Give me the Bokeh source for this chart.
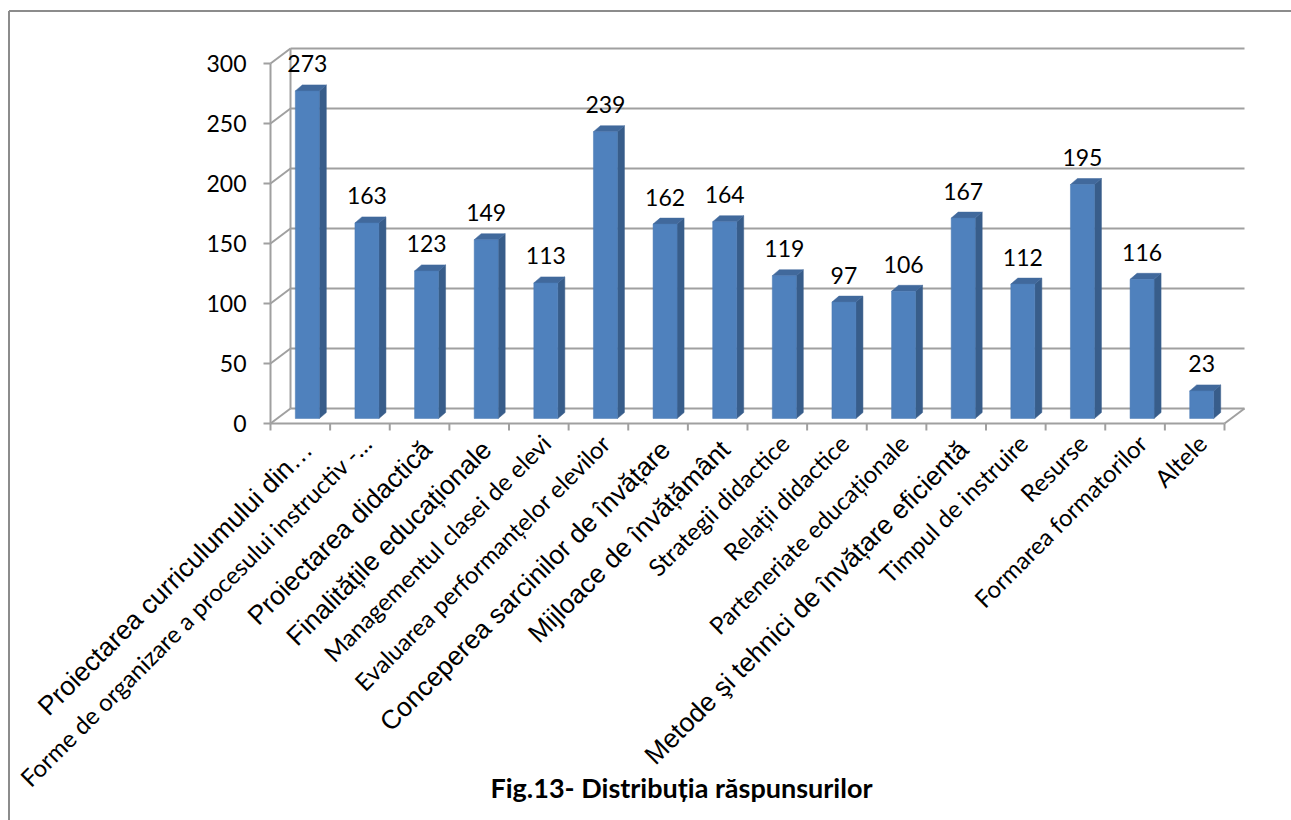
import math
from bokeh.plotting import figure
from bokeh.models import Range1d
from bokeh.core.properties import value
from bokeh.embed import file_html
from bokeh.resources import INLINE

# ---------------- data ----------------
categories = [
    "Proiectarea curriculumului din…",
    "Forme de organizare a procesului instructiv -…",
    "Proiectarea didactică",
    "Finalitățile educaționale",
    "Managementul clasei de elevi",
    "Evaluarea performanțelor elevilor",
    "Conceperea sarcinilor de învățare",
    "Mijloace de învățământ",
    "Strategii didactice",
    "Relații didactice",
    "Parteneriate educaționale",
    "Metode şi tehnici de învățare eficientă",
    "Timpul de instruire",
    "Resurse",
    "Formarea formatorilor",
    "Altele",
]
values = [273, 163, 123, 149, 113, 239, 162, 164, 119, 97, 106, 167, 112, 195, 116, 23]
y_ticks = [0, 50, 100, 150, 200, 250, 300]
title_text = "Fig.13- Distribuția răspunsurilor"

# labels drawn in the Arial-like face (the rest in the Calibri-like face)
ARIAL_LABELS = {0, 2, 3, 6, 7, 11}

# ---------------- layout constants (canvas pixels) ----------------
W, H = 1291, 820
AX_X, AX_Y = 270, 423      # front corner of the axes (value 0, first category edge)
PX_CAT = 59.625            # pixels per category
PX_VAL = 1.2               # pixels per unit of value
BACK_DX, BACK_DY = 20, 15  # depth of the 3D box
BAR_SHIFT, BAR_LIFT = 7, 5
BAR_W = 24
BAR_DX, BAR_DY = 7, 6
TICK = 7
GRID = "#A0A0A0"
FRONT, SIDE, TOP = "#4F81BD", "#385D8A", "#41699C"
BORDER_X, BORDER_Y = 8.5, 10.5

n = len(categories)
ymax = y_ticks[-1]

def dx(px):   # horizontal pixels -> category units
    return px / PX_CAT

def dy(px):   # vertical pixels -> value units
    return px / PX_VAL

p = figure(width=W, height=H,
           x_range=Range1d(dx(-AX_X), dx(W - AX_X)),
           y_range=Range1d(dy(AX_Y - H), dy(AX_Y)),
           min_border=0, x_axis_location=None, y_axis_location=None,
           output_backend="svg", toolbar_location=None)
p.title.visible = False
p.grid.visible = False
p.outline_line_color = None
p.background_fill_color = "white"
p.border_fill_color = "white"

# outer chart-area border (left and top edges are the visible ones)
p.segment(x0=[dx(BORDER_X - AX_X), dx(BORDER_X - AX_X)],
          y0=[dy(AX_Y - BORDER_Y), dy(AX_Y - BORDER_Y)],
          x1=[dx(BORDER_X - AX_X), dx(W - AX_X)],
          y1=[dy(AX_Y - H), dy(AX_Y - BORDER_Y)],
          line_color="#8C8C8C", line_width=2)

bdx, bdy = dx(BACK_DX), dy(BACK_DY)
nt = len(y_ticks)

# back wall grid lines, left wall diagonals, back edge, floor right edge
p.segment(x0=[bdx] * nt, y0=[t + bdy for t in y_ticks],
          x1=[n + bdx] * nt, y1=[t + bdy for t in y_ticks],
          line_color=GRID, line_width=2)
p.segment(x0=[0] * nt, y0=y_ticks, x1=[bdx] * nt, y1=[t + bdy for t in y_ticks],
          line_color=GRID, line_width=2)
p.segment(x0=[bdx], y0=[bdy], x1=[bdx], y1=[ymax + bdy], line_color=GRID, line_width=2)
p.segment(x0=[n], y0=[0], x1=[n + bdx], y1=[bdy], line_color=GRID, line_width=2)

# front value axis: line, ticks, labels
p.segment(x0=[0], y0=[0], x1=[0], y1=[ymax], line_color=GRID, line_width=2)
p.segment(x0=[-dx(TICK)] * nt, y0=y_ticks, x1=[0] * nt, y1=y_ticks,
          line_color=GRID, line_width=2)
p.text(x=[-dx(TICK + 17)] * nt, y=y_ticks, text=[str(t) for t in y_ticks],
       text_align="right", text_baseline="middle",
       text_font=value("Lato"), text_font_size="23px", text_color="black")

# front category axis: line and tick marks between categories
p.segment(x0=[0], y0=[0], x1=[n], y1=[0], line_color=GRID, line_width=2)
p.segment(x0=list(range(n + 1)), y0=[0] * (n + 1),
          x1=list(range(n + 1)), y1=[-dy(TICK)] * (n + 1),
          line_color=GRID, line_width=2)

# bars (front, side, top faces)
hw = dx(BAR_W / 2)
lift = dy(BAR_LIFT)
ddx, ddy = dx(BAR_DX), dy(BAR_DY)
xc = [i + 0.5 + dx(BAR_SHIFT) for i in range(n)]
xl = [c - hw for c in xc]
xr = [c + hw for c in xc]
tops = [v + lift for v in values]

p.patches(xs=[[r, r + ddx, r + ddx, r] for r in xr],
          ys=[[lift, lift + ddy, t + ddy, t] for t in tops],
          fill_color=SIDE, line_color=SIDE, line_width=0.5)
p.patches(xs=[[l, l + ddx, r + ddx, r] for l, r in zip(xl, xr)],
          ys=[[t, t + ddy, t + ddy, t] for t in tops],
          fill_color=TOP, line_color=TOP, line_width=0.5)
p.quad(left=xl, right=xr, bottom=[lift] * n, top=tops,
       fill_color=FRONT, line_color="#4A7AB4", line_width=0.5)

# value labels
p.text(x=xc, y=tops, text=[str(v) for v in values],
       text_align="center", text_baseline="alphabetic", y_offset=-27,
       text_font=value("Lato"), text_font_size="23px", text_color="black")

# category labels (rotated 45°)
LBL_POS = {True: (-3, 11), False: (-3, 5)}
for arial in (True, False):
    idx = [i for i in range(n) if (i in ARIAL_LABELS) == arial]
    ox, oy = LBL_POS[arial]
    p.text(x=[i + 0.5 + dx(ox) for i in idx], y=[-dy(oy)] * len(idx),
           text=[categories[i] for i in idx], angle=math.pi / 4,
           text_align="right", text_baseline="top",
           text_font=value("Liberation Sans" if arial else "Lato"),
           text_font_size="26.5px" if arial else "24px", text_color="black")

# chart title
TITLE_X, TITLE_BASE = 681, 787
p.text(x=[dx(TITLE_X - AX_X)], y=[dy(AX_Y - TITLE_BASE)], text=[title_text],
       text_align="center", text_baseline="alphabetic",
       text_font=value("Lato"), text_font_style="bold", text_font_size="27px",
       text_color="black")

open("out.html", "w").write(file_html(p, INLINE))
